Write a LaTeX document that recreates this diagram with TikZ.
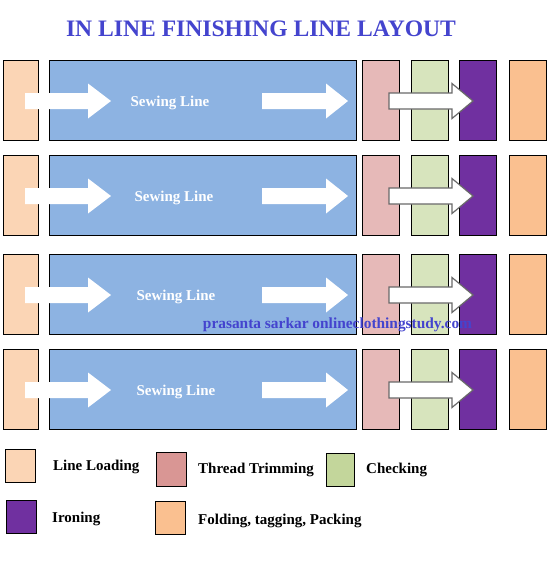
\documentclass[tikz,border=0pt]{standalone}
\usepackage{fontspec}
\setmainfont{Liberation Serif}
\definecolor{titleblue}{RGB}{68,68,206}
\definecolor{loadpeach}{RGB}{251,213,181}
\definecolor{sewblue}{RGB}{141,179,226}
\definecolor{trimpink}{RGB}{230,185,184}
\definecolor{trimdark}{RGB}{217,150,148}
\definecolor{checkgreen}{RGB}{215,228,189}
\definecolor{checkdark}{RGB}{195,214,155}
\definecolor{ironpurple}{RGB}{112,48,160}
\definecolor{packorange}{RGB}{250,192,144}
\definecolor{arrowgray}{RGB}{105,105,105}

% block arrow: [style] shaft start, head base, tip, centre y
\newcommand{\flowarrow}[5][]{%
  \filldraw[#1] (#2,#5-8) -- (#3,#5-8) -- (#3,#5-17.5) -- (#4,#5)
    -- (#3,#5+17.5) -- (#3,#5+8) -- (#2,#5+8) -- cycle;}

\tikzset{
  unit/.style={draw=black, line width=1pt, inner sep=0pt, outer sep=0pt,
    minimum height=80pt},
  legbox/.style={draw=black, line width=1pt, inner sep=0pt, outer sep=0pt},
  legtext/.style={anchor=west, inner sep=0pt, font=\bfseries\fontsize{15}{17}\selectfont},
}

\begin{document}
\begin{tikzpicture}[x=1pt,y=-1pt]
      \useasboundingbox[fill=white] (0,0) rectangle (550,563);
      \node[text=titleblue, font=\bfseries\fontsize{23.6}{26}\selectfont] (title) at (261,29) {IN LINE FINISHING LINE LAYOUT};
      % four lines
      \foreach \r/\c/\t in {1/100/170, 2/195/174, 3/294/176, 4/389/176}{
        \node[unit, fill=loadpeach, minimum width=35pt] (load\r) at (20.5,\c) {};
        \node[unit, fill=sewblue, minimum width=307pt] (sew\r) at (202.5,\c) {};
        \node[unit, fill=trimpink, minimum width=37pt] (trim\r) at (380.5,\c) {};
        \node[unit, fill=checkgreen, minimum width=37pt] (check\r) at (429.5,\c) {};
        \node[unit, fill=ironpurple, minimum width=37pt] (iron\r) at (477.5,\c) {};
        \node[unit, fill=packorange, minimum width=37pt] (pack\r) at (527.5,\c) {};
        \flowarrow[fill=white, draw=none]{25}{88}{111}{\c+1}
        \flowarrow[fill=white, draw=none]{262}{326}{348}{\c+1}
        \flowarrow[fill=white, draw=arrowgray, line width=1.2pt]{389}{452}{473}{\c+1}
        \node[text=white, font=\bfseries\fontsize{15}{17}\selectfont] (sewtext\r) at (\t,\c+2.5) {Sewing Line};
      }
      \node[text=titleblue, font=\bfseries\fontsize{15.4}{17}\selectfont] (credit) at (337.5,325) {prasanta sarkar onlineclothingstudy.com};
      % legend
      \node[legbox, fill=loadpeach, minimum width=30pt, minimum height=33pt] (legload) at (20,465.5) {};
      \node[legtext] (legloadtext) at (53,467) {Line Loading};
      \node[legbox, fill=trimdark, minimum width=30pt, minimum height=34pt] (legtrim) at (171,469) {};
      \node[legtext] (legtrimtext) at (198,470) {Thread Trimming};
      \node[legbox, fill=checkdark, minimum width=28pt, minimum height=33pt] (legcheck) at (340,469.5) {};
      \node[legtext] (legchecktext) at (366,470) {Checking};
      \node[legbox, fill=ironpurple, minimum width=30pt, minimum height=33pt] (legiron) at (21,516.5) {};
      \node[legtext] (legirontext) at (52,519) {Ironing};
      \node[legbox, fill=packorange, minimum width=30pt, minimum height=33pt] (legpack) at (170,517.5) {};
      \node[legtext] (legpacktext) at (198,521) {Folding, tagging, Packing};
    \end{tikzpicture}
\end{document}
